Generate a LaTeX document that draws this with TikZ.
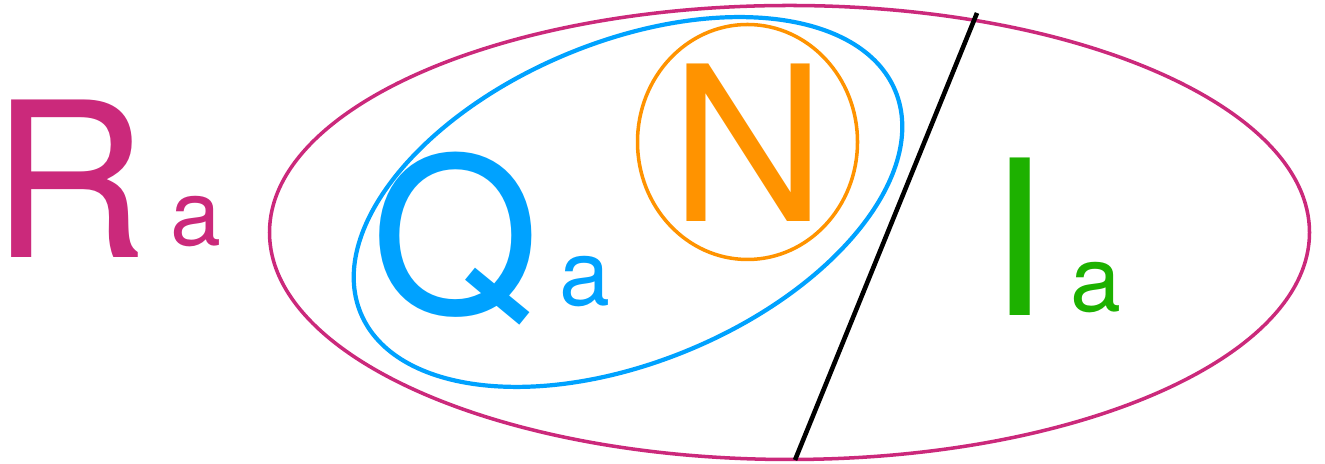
\documentclass[tikz,border=0pt]{standalone}
\usepackage{fontspec}
\setmainfont{TeX Gyre Heros}
\definecolor{setMagenta}{RGB}{203,41,123}
\definecolor{setBlue}{RGB}{0,162,255}
\definecolor{setOrange}{RGB}{255,147,0}
\definecolor{setGreen}{RGB}{29,177,0}
\usetikzlibrary{calc}

\begin{document}
\begin{tikzpicture}[
  big/.style={inner sep=0pt, anchor=base, font=\fontsize{123}{123}\selectfont},
  sub/.style={inner sep=0pt, anchor=base, font=\fontsize{52}{52}\selectfont}
]
  \useasboundingbox (0,0) rectangle (26.5,9.28);

  % the sets
  \draw[setMagenta, line width=2pt] (15.79,4.63) ellipse [x radius=10.40cm, y radius=4.54cm];
  \draw[setBlue, line width=2.4pt, rotate around={22.6:(12.56,5.24)}]
    (12.56,5.24) ellipse [x radius=5.79cm, y radius=3.20cm];
  \draw[setOrange, line width=2pt] (14.95,6.44) ellipse [x radius=2.20cm, y radius=2.35cm];

  % labels
  \node[big, setMagenta] (R)  at (1.40,4.12)  {R};
  \node[sub, setMagenta] (Ra) at (3.91,4.36)  {a};
  \node[big, setBlue]    (Q)  at (9.11,3.00)  {Q};
  \node[sub, setBlue]    (Qa) at (11.70,3.16) {a};
  \node[big, setOrange]  (N)  at (14.98,4.84) {N};
  \node[big, setGreen]   (I)  at (20.38,2.96) {I};
  \node[sub, setGreen]   (Ia) at (21.91,3.04) {a};

  % dividing line
  \coordinate (cutTop) at (19.54,9.02);
  \coordinate (cutBot) at (15.90,0.08);
  \draw[line width=2.6pt] (cutTop) -- (cutBot);
\end{tikzpicture}
\end{document}
